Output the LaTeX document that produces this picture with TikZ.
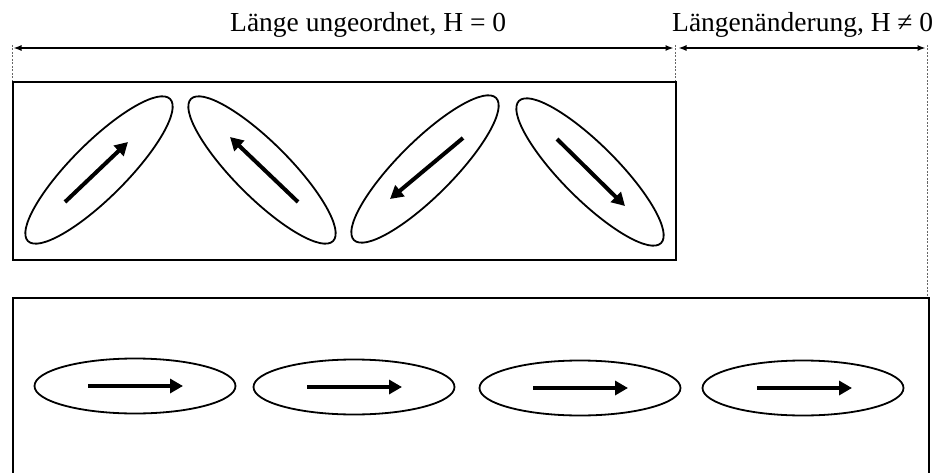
\documentclass[tikz,border=0pt]{standalone}
\usepackage{fontspec}
\setmainfont{Liberation Serif}
\usetikzlibrary{shapes.geometric,arrows.meta}
\begin{document}
\begin{tikzpicture}[x=1pt,y=-1pt,
  frame/.style={draw=black,line width=2pt},
  grain/.style={ellipse,draw=black,line width=1.8pt,minimum width=201pt,minimum height=55pt,inner sep=0pt},
  spin/.style={line width=4pt,-{Triangle[length=13pt,width=14pt]}},
  guide/.style={draw=black!60,line width=0.9pt,dash pattern=on 2pt off 1.5pt},
  dim/.style={line width=1.4pt,{Latex[length=8pt,width=6pt]}-{Latex[length=8pt,width=6pt]},shorten <=1.5pt,shorten >=1.5pt},
  lbl/.style={font=\fontsize{27.5}{30}\selectfont,anchor=base west,inner sep=0pt}]
\useasboundingbox (0,0) rectangle (944,473);
\clip (0,0) rectangle (944,473);
% labels
\node[lbl] (l1) at (230,32) {Länge ungeordnet, H = 0};
\node[lbl] (l2) at (672,32) {Längenänderung, H ≠ 0};
% guide coordinates
\coordinate (a0) at (12,45);
\coordinate (a1) at (12,81);
\coordinate (b0) at (675,45);
\coordinate (b1) at (675,81);
\coordinate (c0) at (927,45);
\coordinate (c1) at (927,297);
\draw[guide] (a0) -- (a1);
\draw[guide] (b0) -- (b1);
\draw[guide] (c0) -- (c1);
\coordinate (da) at (12,48);
\coordinate (db) at (675,48);
\coordinate (db2) at (677,48);
\coordinate (dc) at (927,48);
\draw[dim] (da) -- (db);
\draw[dim] (db2) -- (dc);
% boxes
\node[frame,inner sep=0pt,minimum width=663pt,minimum height=178pt,anchor=north west] (top) at (12,81) {};
\node[frame,inner sep=0pt,minimum width=916pt,minimum height=200pt,anchor=north west] (bot) at (12,297) {};
% top grains
\node[grain,rotate=45] (e1) at (99,170) {};
\node[grain,rotate=-45] (e2) at (262,170) {};
\node[grain,rotate=45] (e3) at (425,169) {};
\node[grain,rotate=-45] (e4) at (590,172) {};
\coordinate (s1a) at (65,202); \coordinate (s1b) at (128,142);
\coordinate (s2a) at (298,202); \coordinate (s2b) at (230,137);
\coordinate (s3a) at (463,138); \coordinate (s3b) at (390,199);
\coordinate (s4a) at (557,139); \coordinate (s4b) at (625,206);
\draw[spin] (s1a) -- (s1b);
\draw[spin] (s2a) -- (s2b);
\draw[spin] (s3a) -- (s3b);
\draw[spin] (s4a) -- (s4b);
% bottom grains
\node[grain] (f1) at (135,386) {};
\node[grain] (f2) at (354,387) {};
\node[grain] (f3) at (580,388) {};
\node[grain] (f4) at (803,388) {};
\coordinate (t1a) at (88,386); \coordinate (t1b) at (183,386);
\coordinate (t2a) at (307,387); \coordinate (t2b) at (402,387);
\coordinate (t3a) at (533,388); \coordinate (t3b) at (628,388);
\coordinate (t4a) at (757,388); \coordinate (t4b) at (852,388);
\draw[spin] (t1a) -- (t1b);
\draw[spin] (t2a) -- (t2b);
\draw[spin] (t3a) -- (t3b);
\draw[spin] (t4a) -- (t4b);
\end{tikzpicture}
\end{document}
